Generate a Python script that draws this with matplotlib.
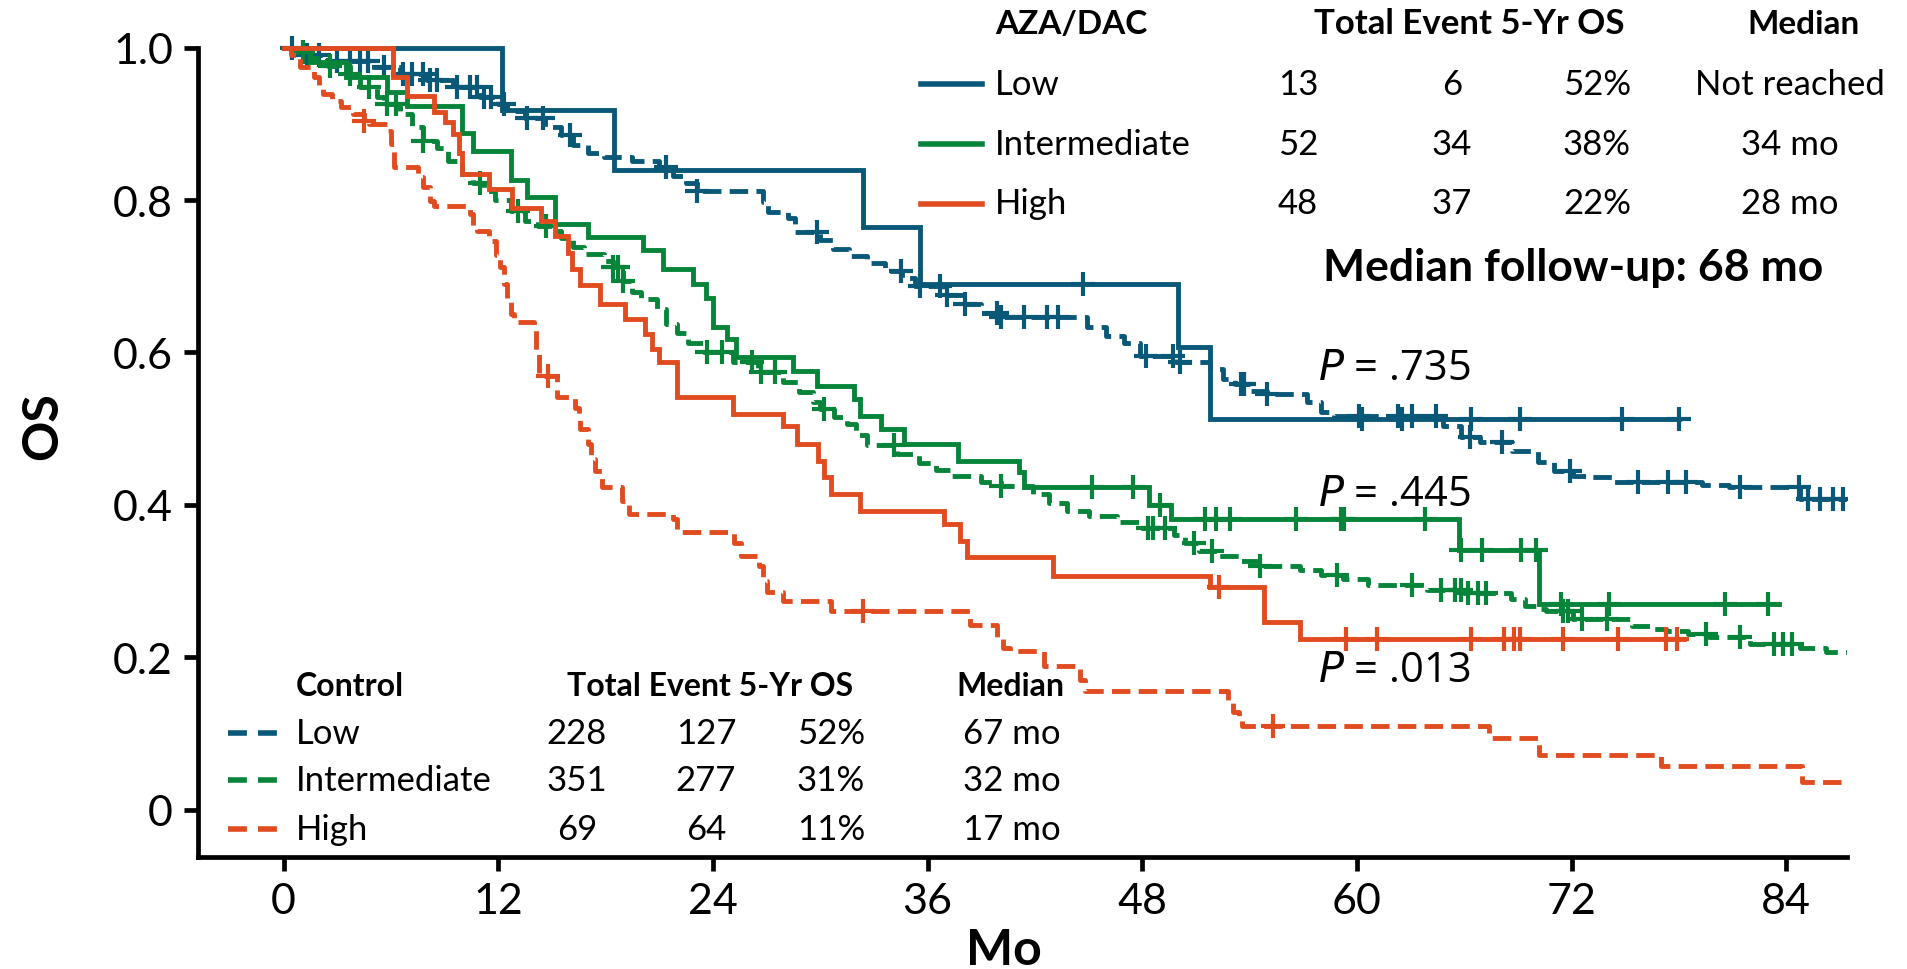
import numpy as np
import matplotlib
matplotlib.use("Agg")
import matplotlib.pyplot as plt
from matplotlib.lines import Line2D

plt.rcParams['font.family'] = ['Lato', 'DejaVu Sans']

# colours
BLUE = '#0a5877'
GREEN = '#06843a'
ORANGE = '#e04b1f'

# ---- AZA/DAC (solid) ----
aza_low_t = [0, 12.2, 18.5, 32.4, 35.6, 50.0, 51.8, 78.0]
aza_low_s = [1.0, 0.918, 0.840, 0.765, 0.690, 0.607, 0.513, 0.513]
aza_low_c = [44.7, 60.3, 62.5, 66.4, 69.1, 74.8, 78.0]

aza_int_t = [0, 1.5, 3.5, 5.8, 6.9, 10.0, 10.6, 12.7, 13.6, 15.2, 17.0, 20.1, 21.2,
             22.9, 23.6, 24.0, 24.8, 25.3, 28.5, 29.8, 31.9, 32.2, 33.4, 34.7, 37.7,
             41.1, 41.4, 48.4, 49.6, 65.7, 70.2, 83.6]
aza_int_s = [1.0, 0.981, 0.962, 0.942, 0.923, 0.888, 0.865, 0.827, 0.804, 0.769, 0.751,
             0.734, 0.710, 0.690, 0.672, 0.633, 0.618, 0.594, 0.576, 0.556, 0.539, 0.517,
             0.499, 0.480, 0.458, 0.443, 0.423, 0.400, 0.381, 0.341, 0.270, 0.270]
aza_int_c = [45.2, 47.5, 49.0, 51.5, 52.1, 52.9, 56.6, 59.1, 59.3, 63.8, 65.8, 67.0,
             69.2, 70.0, 71.4, 74.1, 80.6, 83.0]

aza_high_t = [0, 6.1, 6.9, 8.4, 9.0, 9.5, 9.8, 10.0, 11.5, 12.8, 14.4, 15.2, 15.9, 16.1,
              16.6, 17.7, 19.1, 20.2, 20.6, 21.0, 22.0, 25.1, 27.9, 28.7, 29.9, 30.2,
              30.6, 32.2, 36.9, 37.8, 38.2, 43.0, 51.8, 54.8, 56.8, 78.3]
aza_high_s = [1.0, 0.961, 0.937, 0.916, 0.902, 0.887, 0.862, 0.834, 0.815, 0.790, 0.773,
              0.753, 0.730, 0.709, 0.688, 0.664, 0.644, 0.624, 0.604, 0.587, 0.541, 0.519,
              0.504, 0.480, 0.458, 0.436, 0.414, 0.392, 0.375, 0.353, 0.331, 0.307, 0.292,
              0.246, 0.224, 0.224]
aza_high_c = [52.3, 59.4, 61.1, 66.4, 68.2, 68.8, 69.1, 71.5, 74.6, 77.3, 77.9]

# ---- Control (dashed) ----
ctl_low_t = [0, 0.8, 2.5, 4.9, 6.5, 8.0, 9.5, 11.0, 12.0, 12.5, 13.5, 14.6, 15.5, 16.2,
             17.0, 17.9, 19.5, 21.0, 21.8, 22.5, 23.1, 26.8, 27.1, 28.2, 28.6, 30.0, 30.7,
             31.6, 32.6, 33.6, 34.6, 35.3, 36.9, 38.0, 39.0, 40.1, 44.9, 46.0, 47.0, 47.9,
             49.9, 51.8, 52.5, 53.2, 54.0, 55.0, 57.2, 58.0, 58.7, 64.8, 65.8, 66.9, 68.7,
             70.1, 71.0, 72.1, 73.0, 74.3, 79.3, 80.8, 84.8, 87.6]
ctl_low_s = [1.0, 0.991, 0.983, 0.975, 0.966, 0.957, 0.948, 0.935, 0.926, 0.917, 0.908,
             0.896, 0.886, 0.872, 0.862, 0.856, 0.851, 0.843, 0.831, 0.822, 0.812, 0.798,
             0.784, 0.776, 0.758, 0.748, 0.736, 0.727, 0.718, 0.707, 0.698, 0.687, 0.675,
             0.664, 0.652, 0.646, 0.633, 0.622, 0.612, 0.595, 0.587, 0.578, 0.565, 0.558,
             0.549, 0.545, 0.535, 0.522, 0.516, 0.503, 0.489, 0.482, 0.471, 0.456, 0.444,
             0.438, 0.436, 0.430, 0.426, 0.423, 0.408, 0.408]
ctl_low_c = [0.5, 1.3, 2.0, 3.0, 3.7, 4.3, 4.7, 5.6, 6.7, 7.2, 7.8, 8.2, 8.6, 9.7, 10.4,
             10.8, 11.2, 11.6, 12.3, 13.6, 14.5, 16.0, 21.4, 23.1, 29.8, 34.5, 35.6, 36.7,
             37.1, 38.1, 39.9, 40.1, 41.4, 42.7, 43.3, 48.2, 49.7, 50.1, 53.5, 53.7, 55.0,
             60.1, 62.3, 63.1, 64.4, 66.3, 68.1, 71.9, 75.7, 77.4, 78.4, 81.4, 84.7, 85.2,
             85.9, 86.6, 87.2]

ctl_int_t = [0, 0.5, 1.5, 2.5, 3.7, 4.3, 5.2, 5.6, 6.5, 7.2, 7.8, 8.6, 9.2, 10.0, 10.6,
             11.2, 11.8, 12.7, 13.5, 14.2, 15.0, 15.5, 16.2, 16.8, 17.9, 18.4, 19.0, 19.5,
             20.0, 20.9, 21.4, 22.0, 22.6, 23.5, 25.1, 26.5, 27.9, 28.8, 29.6, 30.0, 30.8,
             31.5, 32.0, 32.6, 34.3, 35.5, 36.5, 37.3, 39.0, 40.1, 41.9, 42.8, 43.8, 45.0,
             46.6, 48.0, 49.8, 50.4, 51.2, 52.0, 53.5, 54.6, 56.8, 58.0, 59.2, 60.6, 63.9,
             66.0, 68.6, 69.4, 70.1, 70.6, 72.1, 75.4, 76.5, 77.3, 78.5, 79.7, 82.0, 84.8,
             86.2, 87.6]
ctl_int_s = [1.0, 0.995, 0.987, 0.976, 0.965, 0.948, 0.935, 0.926, 0.913, 0.896, 0.877,
             0.869, 0.851, 0.834, 0.822, 0.812, 0.800, 0.786, 0.773, 0.766, 0.760, 0.750,
             0.739, 0.729, 0.720, 0.712, 0.694, 0.679, 0.670, 0.657, 0.637, 0.625, 0.612,
             0.600, 0.587, 0.575, 0.561, 0.548, 0.535, 0.526, 0.515, 0.506, 0.492, 0.479,
             0.467, 0.455, 0.446, 0.438, 0.430, 0.425, 0.414, 0.403, 0.392, 0.385, 0.377,
             0.370, 0.360, 0.350, 0.340, 0.333, 0.326, 0.320, 0.314, 0.308, 0.302, 0.295,
             0.288, 0.284, 0.276, 0.267, 0.263, 0.260, 0.250, 0.241, 0.237, 0.234, 0.230,
             0.226, 0.217, 0.212, 0.207, 0.207]
ctl_int_c = [1.1, 2.6, 3.7, 4.8, 5.8, 6.3, 7.8, 11.0, 13.1, 14.7, 18.4, 18.7, 19.0, 23.7,
             24.5, 26.2, 26.7, 27.5, 30.2, 34.1, 40.1, 48.3, 48.6, 49.3, 50.9, 51.9, 54.6,
             58.9, 63.1, 64.7, 65.5, 65.8, 66.2, 66.8, 67.2, 71.5, 71.8, 72.6, 74.0, 79.5,
             81.4, 83.3, 83.8, 84.3]

ctl_high_t = [0, 0.4, 0.9, 1.7, 2.0, 2.2, 2.7, 3.2, 3.9, 4.5, 4.8, 5.8, 6.0, 6.2, 7.5,
              7.8, 8.2, 8.4, 10.4, 10.6, 10.8, 11.5, 11.9, 12.1, 12.3, 12.5, 12.7, 12.9,
              14.0, 14.1, 14.3, 15.3, 16.3, 16.5, 16.6, 17.0, 17.2, 17.4, 17.8, 18.9, 19.3,
              21.8, 22.0, 25.2, 25.6, 26.6, 26.8, 27.0, 27.9, 30.6, 38.4, 39.9, 40.2, 40.6,
              42.5, 44.5, 44.8, 52.8, 53.1, 53.4, 53.6, 67.4, 70.2, 77.0, 84.9, 87.6]
ctl_high_s = [1.0, 0.990, 0.975, 0.961, 0.947, 0.939, 0.930, 0.922, 0.913, 0.904, 0.900,
              0.891, 0.873, 0.843, 0.830, 0.817, 0.799, 0.792, 0.782, 0.765, 0.760, 0.746,
              0.728, 0.712, 0.690, 0.670, 0.650, 0.640, 0.631, 0.600, 0.569, 0.541, 0.527,
              0.512, 0.499, 0.480, 0.460, 0.445, 0.423, 0.405, 0.388, 0.381, 0.364, 0.350,
              0.333, 0.320, 0.300, 0.285, 0.274, 0.261, 0.242, 0.226, 0.212, 0.208, 0.188,
              0.170, 0.155, 0.140, 0.128, 0.120, 0.110, 0.094, 0.072, 0.057, 0.036, 0.036]
ctl_high_c = [4.5, 14.8, 32.4, 55.3]

# table text
aza_header = ['AZA/DAC', 'Total Event 5-Yr OS', 'Median']
ctl_header = ['Control', 'Total Event 5-Yr OS', 'Median']
groups = ['Low', 'Intermediate', 'High']
aza_total = ['13', '52', '48']
aza_event = ['6', '34', '37']
aza_os5 = ['52%', '38%', '22%']
aza_median = ['Not reached', '34 mo', '28 mo']
ctl_total = ['228', '351', '69']
ctl_event = ['127', '277', '64']
ctl_os5 = ['52%', '31%', '11%']
ctl_median = ['67 mo', '32 mo', '17 mo']
p_values = ['.735', '.445', '.013']

W, H = 1908, 970
fig = plt.figure(figsize=(W / 100, H / 100), dpi=100)
ax = fig.add_axes([198 / W, 112 / H, (1847 - 198) / W, (858 - 33.5) / H])

LW = 3.5
DASH = (0, (3.8, 1.7))


def km(t, s, c, color, ls, z):
    ax.step(t, s, where='post', color=color, lw=LW, linestyle=ls, zorder=z,
            solid_joinstyle='miter', dash_capstyle='butt')
    t = np.asarray(t)
    s = np.asarray(s)
    idx = np.searchsorted(t, c, side='right') - 1
    ax.plot(c, s[idx], linestyle='none', marker='+', color=color, ms=17, mew=3.0, zorder=z)


km(ctl_low_t, ctl_low_s, ctl_low_c, BLUE, DASH, 3)
km(ctl_int_t, ctl_int_s, ctl_int_c, GREEN, DASH, 3)
km(ctl_high_t, ctl_high_s, ctl_high_c, ORANGE, DASH, 3)
km(aza_low_t, aza_low_s, aza_low_c, BLUE, '-', 4)
km(aza_int_t, aza_int_s, aza_int_c, GREEN, '-', 4)
km(aza_high_t, aza_high_s, aza_high_c, ORANGE, '-', 4)

ax.set_xlim(-4.78, 87.4)
ax.set_ylim(-0.0623, 1.02)
ax.set_xticks([0, 12, 24, 36, 48, 60, 72, 84])
ax.set_yticks([0, 0.2, 0.4, 0.6, 0.8, 1.0])
ax.set_yticklabels(['0', '0.2', '0.4', '0.6', '0.8', '1.0'])
for sp in ['top', 'right']:
    ax.spines[sp].set_visible(False)
for sp in ['left', 'bottom']:
    ax.spines[sp].set_linewidth(3.4)
ax.spines['left'].set_bounds(-0.0623, 1.0)
ax.tick_params(axis='both', direction='out', length=10, width=3.4, labelsize=31, pad=8)
ax.set_xlabel('Mo', fontsize=36, fontweight='bold', va='center', ha='center')
ax.set_ylabel('OS', fontsize=36, fontweight='bold', va='center', ha='center')
ax.xaxis.set_label_coords(0.489, -0.112)
ax.yaxis.set_label_coords(-0.094, 0.524)


def fx(x):
    return x / W


def fy(y):
    return 1 - y / H


FS = 25
# AZA/DAC table
fig.text(fx(995), fy(24), aza_header[0], fontsize=24, fontweight='bold', va='center')
fig.text(fx(1314), fy(24), aza_header[1], fontsize=25, fontweight='bold', va='center')
fig.text(fx(1804), fy(24), aza_header[2], fontsize=24, fontweight='bold', va='center', ha='center')
aza_rows = [85, 145, 204.5]
for i, col in enumerate([BLUE, GREEN, ORANGE]):
    y = aza_rows[i]
    fig.add_artist(Line2D([fx(921), fx(982)], [fy(y), fy(y)], color=col, lw=4.0))
    fig.text(fx(995), fy(y), groups[i], fontsize=FS, va='center')
    fig.text(fx(1298), fy(y), aza_total[i], fontsize=FS, va='center', ha='center')
    fig.text(fx(1452), fy(y), aza_event[i], fontsize=FS, va='center', ha='center')
    fig.text(fx(1597), fy(y), aza_os5[i], fontsize=FS, va='center', ha='center')
    fig.text(fx(1790), fy(y), aza_median[i], fontsize=FS, va='center', ha='center')

fig.text(fx(1573), fy(268), 'Median follow-up: 68 mo', fontsize=32, fontweight='bold',
         va='center', ha='center')

# Control table
fig.text(fx(296), fy(687), ctl_header[0], fontsize=23, fontweight='bold', va='center')
fig.text(fx(567), fy(687), ctl_header[1], fontsize=23, fontweight='bold', va='center')
fig.text(fx(1010), fy(687), ctl_header[2], fontsize=23, fontweight='bold', va='center', ha='center')
ctl_rows = [734, 781, 830]
for i, col in enumerate([BLUE, GREEN, ORANGE]):
    y = ctl_rows[i]
    fig.add_artist(Line2D([fx(228), fx(286)], [fy(y), fy(y)], color=col, lw=4.0,
                          linestyle=(0, (3.4, 2.0))))
    fig.text(fx(296), fy(y), groups[i], fontsize=FS, va='center')
    fig.text(fx(577), fy(y), ctl_total[i], fontsize=FS, va='center', ha='center')
    fig.text(fx(706), fy(y), ctl_event[i], fontsize=FS, va='center', ha='center')
    fig.text(fx(831), fy(y), ctl_os5[i], fontsize=FS, va='center', ha='center')
    fig.text(fx(1012), fy(y), ctl_median[i], fontsize=FS, va='center', ha='center')

# P values
for yy, p in zip([369, 495, 671], p_values):
    fig.text(fx(1318), fy(yy), r'$\mathit{P}$ = ' + p, fontsize=30, va='center',
             family=['Open Sans', 'DejaVu Sans'])

fig.savefig('out.png', dpi=100)
